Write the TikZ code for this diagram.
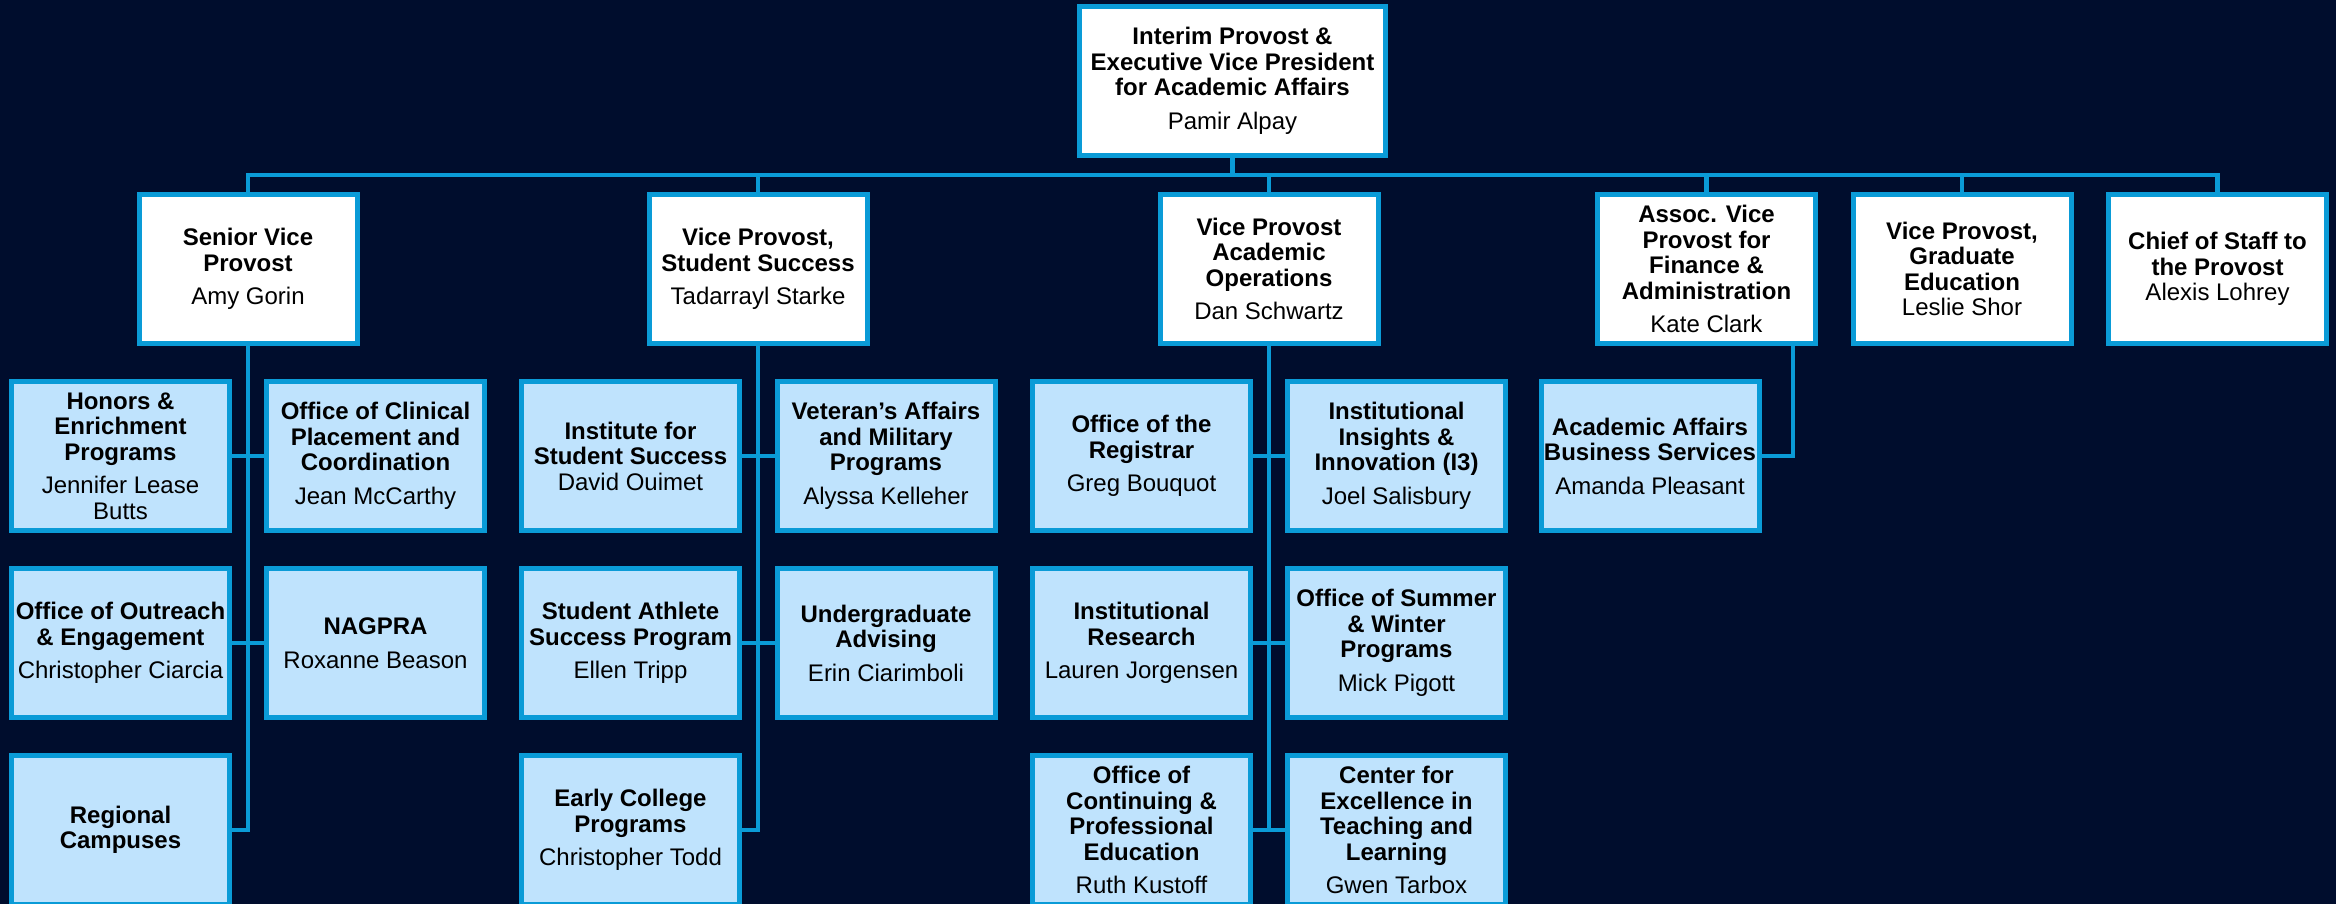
\documentclass[tikz,border=0pt]{standalone}
\usepackage{fontspec}
\setmainfont{Liberation Sans}
\usetikzlibrary{calc}
\definecolor{bg}{HTML}{000D2D}
\definecolor{bd}{HTML}{0A9BD7}
\definecolor{lb}{HTML}{BFE3FD}
\newcommand{\nm}[1]{\textmd{#1}}
\begin{document}
\begin{tikzpicture}[x=1pt,y=-1pt,
  box/.style={draw=bd, line width=5pt, minimum width=218pt, minimum height=149pt,
    inner sep=0pt, align=center, text=black,
    font=\fontsize{24}{25.5}\selectfont\bfseries},
  wbox/.style={box, fill=white},
  lbox/.style={box, fill=lb},
  conn/.style={draw=bd, line width=4.5pt}]
\useasboundingbox (0,0) rectangle (2336,904);
\fill[bg] (0,0) rectangle (2336,904);

% top
\node[wbox, minimum width=306pt] (top) at (1232.5,81) {Interim Provost \&\\Executive Vice President\\for Academic Affairs\\[8pt]\nm{Pamir Alpay}};

% second level
\node[wbox] (sen) at (248,269) {Senior Vice\\Provost\\[8pt]\nm{Amy Gorin}};
\node[wbox] (ss) at (758,269) {Vice Provost,\\Student Success\\[8pt]\nm{Tadarrayl Starke}};
\node[wbox] (ao) at (1269,269) {Vice Provost\\Academic\\Operations\\[8pt]\nm{Dan Schwartz}};
\node[wbox] (avp) at (1706.5,269) {Assoc. Vice\\Provost for\\Finance \&\\Administration\\[8pt]\nm{Kate Clark}};
\node[wbox] (grad) at (1962,269) {Vice Provost,\\Graduate\\Education\\\nm{Leslie Shor}};
\node[wbox] (chief) at (2217.5,269) {Chief of Staff to\\the Provost\\\nm{Alexis Lohrey}};

% senior vice provost children
\node[lbox] (hon) at (120.5,456) {Honors \&\\Enrichment\\Programs\\[8pt]\nm{Jennifer Lease}\\\nm{Butts}};
\node[lbox] (cpc) at (375.5,456) {Office of Clinical\\Placement and\\Coordination\\[8pt]\nm{Jean McCarthy}};
\node[lbox] (out) at (120.5,643) {Office of Outreach\\\& Engagement\\[8pt]\nm{Christopher Ciarcia}};
\node[lbox] (nag) at (375.5,643) {NAGPRA\\[8pt]\nm{Roxanne Beason}};
\node[lbox] (reg) at (120.5,830) {Regional\\Campuses};

% student success children
\node[lbox] (iss) at (630.5,456) {Institute for\\Student Success\\\nm{David Ouimet}};
\node[lbox] (vet) at (886,456) {Veteran’s Affairs\\and Military\\Programs\\[8pt]\nm{Alyssa Kelleher}};
\node[lbox] (sa) at (630.5,643) {Student Athlete\\Success Program\\[8pt]\nm{Ellen Tripp}};
\node[lbox] (ua) at (886,643) {Undergraduate\\Advising\\[8pt]\nm{Erin Ciarimboli}};
\node[lbox] (ec) at (630.5,830) {Early College\\Programs\\[8pt]\nm{Christopher Todd}};

% academic operations children
\node[lbox] (rg) at (1141.5,456) {Office of the\\Registrar\\[8pt]\nm{Greg Bouquot}};
\node[lbox] (i3) at (1396.5,456) {Institutional\\Insights \&\\Innovation (I3)\\[8pt]\nm{Joel Salisbury}};
\node[lbox] (ir) at (1141.5,643) {Institutional\\Research\\[8pt]\nm{Lauren Jorgensen}};
\node[lbox] (sw) at (1396.5,643) {Office of Summer\\\& Winter\\Programs\\[8pt]\nm{Mick Pigott}};
\node[lbox] (ce) at (1141.5,830) {Office of\\Continuing \&\\Professional\\Education\\[8pt]\nm{Ruth Kustoff}};
\node[lbox] (cetl) at (1396.5,830) {Center for\\Excellence in\\Teaching and\\Learning\\[8pt]\nm{Gwen Tarbox}};

% finance child
\node[lbox] (aabs) at (1650,456) {Academic Affairs\\Business Services\\[8pt]\nm{Amanda Pleasant}};

% connectors
\coordinate (busL) at (248,175);
\coordinate (busR) at (2217.5,175);
\draw[conn] (sen.north) -- (busL) -- (busR) -- (chief.north);
\draw[conn] (top.south) -- (top.south |- busL);
\foreach \n in {ss,ao,avp,grad} \draw[conn] (\n.north) -- (\n.north |- busL);

\draw[conn] (sen.south) |- (reg.east);
\draw[conn] (hon.east) -- (cpc.west);
\draw[conn] (out.east) -- (nag.west);

\draw[conn] (ss.south) |- (ec.east);
\draw[conn] (iss.east) -- (vet.west);
\draw[conn] (sa.east) -- (ua.west);

\draw[conn] (ao.south) -- (ao.south |- ce.east);
\draw[conn] (rg.east) -- (i3.west);
\draw[conn] (ir.east) -- (sw.west);
\draw[conn] (ce.east) -- (cetl.west);

\draw[conn] ([xshift=-25pt]avp.south east) |- (aabs.east);
\end{tikzpicture}
\end{document}
